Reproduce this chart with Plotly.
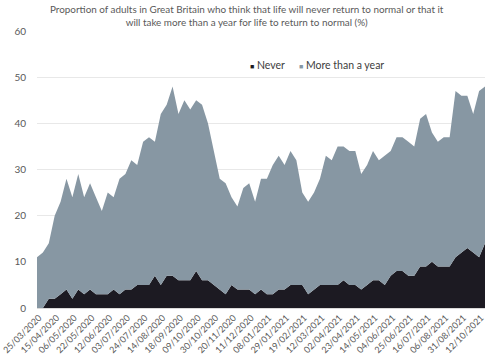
import plotly.graph_objects as go

dates = [
    "25/03/2020", "01/04/2020", "08/04/2020", "15/04/2020", "22/04/2020", "29/04/2020",
    "06/05/2020", "10/05/2020", "17/05/2020", "22/05/2020", "29/05/2020", "05/06/2020",
    "12/06/2020", "19/06/2020", "26/06/2020", "03/07/2020", "10/07/2020", "17/07/2020",
    "24/07/2020", "31/07/2020", "07/08/2020", "14/08/2020", "28/08/2020", "11/09/2020",
    "18/09/2020", "25/09/2020", "02/10/2020", "09/10/2020", "16/10/2020", "23/10/2020",
    "30/10/2020", "06/11/2020", "13/11/2020", "20/11/2020", "27/11/2020", "04/12/2020",
    "11/12/2020", "18/12/2020", "01/01/2021", "08/01/2021", "15/01/2021", "22/01/2021",
    "29/01/2021", "05/02/2021", "12/02/2021", "19/02/2021", "26/02/2021", "05/03/2021",
    "12/03/2021", "19/03/2021", "26/03/2021", "02/04/2021", "09/04/2021", "16/04/2021",
    "23/04/2021", "30/04/2021", "07/05/2021", "14/05/2021", "21/05/2021", "28/05/2021",
    "04/06/2021", "11/06/2021", "18/06/2021", "25/06/2021", "02/07/2021", "09/07/2021",
    "16/07/2021", "23/07/2021", "30/07/2021", "06/08/2021", "13/08/2021", "20/08/2021",
    "31/08/2021", "14/09/2021", "28/09/2021", "12/10/2021", "26/10/2021",
]

never = [
    0, 0, 2, 2, 3, 4, 2, 4, 3, 4, 3, 3,
    3, 4, 3, 4, 4, 5, 5, 5, 7, 5, 7, 7,
    6, 6, 6, 8, 6, 6, 5, 4, 3, 5, 4, 4,
    4, 3, 4, 3, 3, 4, 4, 5, 5, 5, 3, 4,
    5, 5, 5, 5, 6, 5, 5, 4, 5, 6, 6, 5,
    7, 8, 8, 7, 7, 9, 9, 10, 9, 9, 9, 11,
    12, 13, 12, 11, 14,
]

total = [
    11, 12, 14, 20, 23, 28, 24, 29, 24, 27, 24, 21,
    25, 24, 28, 29, 32, 31, 36, 37, 36, 42, 44, 48,
    42, 45, 43, 45, 44, 40, 34, 28, 27, 24, 22, 26,
    27, 23, 28, 28, 31, 33, 31, 34, 32, 25, 23, 25,
    28, 33, 32, 35, 35, 34, 34, 29, 31, 34, 32, 33,
    34, 37, 37, 36, 35, 41, 42, 38, 36, 37, 37, 47,
    46, 46, 42, 47, 48,
]

more_than_year = [t - n for t, n in zip(total, never)]

series_names = ["Never", "More than a year"]
y_ticks = [0, 10, 20, 30, 40, 50, 60]

BLACK = "#1c1a22"
GREY = "#8797a3"
TXT = "#595959"

fig = go.Figure()
fig.add_trace(go.Scatter(
    x=dates, y=never, name=series_names[0], mode="lines", stackgroup="one",
    line=dict(width=0, color=BLACK), fillcolor=BLACK,
))
fig.add_trace(go.Scatter(
    x=dates, y=more_than_year, name=series_names[1], mode="lines", stackgroup="one",
    line=dict(width=0, color=GREY), fillcolor=GREY,
))

def legend_key(name, color, x):
    return dict(
        text=f'<span style="font-size:7px;color:{color}">■</span> {name}',
        xref="paper", yref="paper", x=x, y=0.877, xanchor="left", yanchor="middle",
        showarrow=False, font=dict(size=10.5, color="#404040"),
    )

fig.update_layout(
    width=486, height=359,
    margin=dict(l=37, r=1, t=31, b=51),
    paper_bgcolor="white", plot_bgcolor="white",
    font=dict(family="Lato, Open Sans, sans-serif", color=TXT, size=10),
    annotations=[
        dict(
            text="Proportion of adults in Great Britain who think that life will never return to normal or that it<br>will take more than a year for life to return to normal (%)",
            xref="paper", yref="paper", x=0.468, y=1.056, xanchor="center", yanchor="middle",
            showarrow=False, font=dict(size=9.9, color=TXT),
        ),
        legend_key(series_names[0], BLACK, 0.470),
        legend_key(series_names[1], GREY, 0.580),
    ],
    showlegend=False,
    xaxis=dict(
        type="category", range=[0, len(dates) - 1], automargin=False,
        tickmode="array", tickvals=dates[::3], ticktext=dates[::3],
        tickangle=-45, tickfont=dict(size=9, color=TXT), ticklabelshift=2,
        showgrid=False, showline=True, linecolor="#d9d9d9", ticks="",
    ),
    yaxis=dict(
        range=[0, 60], tickvals=y_ticks, showgrid=True, gridcolor="#e8e8e8",
        gridwidth=1, zeroline=False, tickfont=dict(size=10, color=TXT),
        ticklabelstandoff=10, automargin=False,
    ),
)

fig.write_html("out.html", config={"displayModeBar": False},
               post_script="document.body.style.margin='0';")
